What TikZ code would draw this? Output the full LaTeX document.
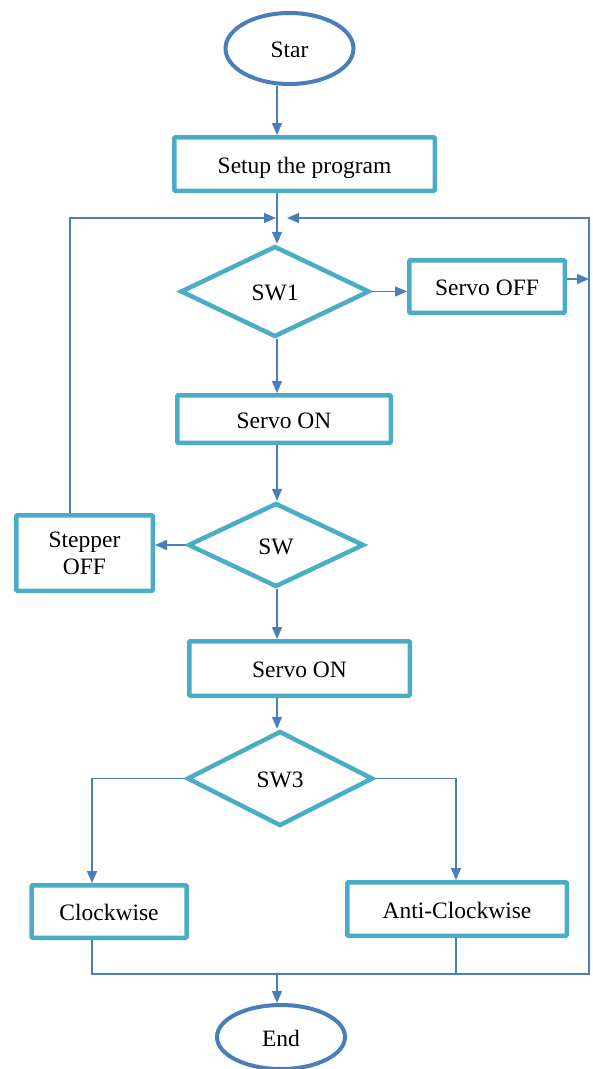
\documentclass[tikz,border=0pt]{standalone}
\usepackage{fontspec}
\setmainfont{Liberation Serif}
\usetikzlibrary{shapes.geometric,arrows.meta}
\definecolor{tealc}{HTML}{4BACC6}
\definecolor{bluec}{HTML}{4A7EBB}
\begin{document}
\begin{tikzpicture}[x=1pt,y=-1pt,
  every node/.style={font=\fontsize{23.5}{27}\selectfont, inner sep=2pt, text height=21pt, text depth=3pt},
  box/.style={rectangle, draw=tealc, line width=4.5pt, rounded corners=1pt},
  dec/.style={diamond, draw=tealc, line width=4.5pt},
  term/.style={ellipse, draw=bluec, line width=4pt},
  arr/.style={draw=bluec, line width=1.6pt, -{Triangle[length=12pt,width=10pt]}},
  conn/.style={draw=bluec, line width=1.6pt}]
\useasboundingbox (0,0) rectangle (593,1069);
\node[term, minimum width=128pt, minimum height=71pt] (star) at (289.5,48.5) {Star};
\node[box, minimum width=260.5pt, minimum height=53.5pt] (setup) at (304.5,164) {Setup the program};
\node[dec, minimum width=189pt, minimum height=91pt] (sw1) at (275,291.5) {SW1};
\node[box, minimum width=155.5pt, minimum height=52.5pt] (servooff) at (487,286.5) {Servo OFF};
\node[box, minimum width=213.5pt, minimum height=47.5pt] (son1) at (284,419) {Servo ON};
\node[dec, minimum width=176pt, minimum height=84pt] (sw) at (276,545) {SW};
\node[box, minimum width=136.5pt, minimum height=75.5pt, align=center, text height=, text depth=] (stepper) at (84.5,553) {\raisebox{-3pt}{\parbox{100pt}{\centering Stepper\\OFF}}};
\node[box, minimum width=220.5pt, minimum height=54.5pt] (son2) at (299.5,668.5) {Servo ON};
\node[dec, minimum width=186pt, minimum height=95pt] (sw3) at (280,778.5) {SW3};
\node[box, minimum width=155pt, minimum height=52.5pt] (cw) at (109,911.5) {Clockwise};
\node[box, minimum width=219.5pt, minimum height=53.5pt] (acw) at (457,909) {Anti-Clockwise};
\node[term, minimum width=128pt, minimum height=64pt] (end) at (281,1037) {End};
\coordinate (mx) at (277,0);
\coordinate (r1) at (589,279);
\coordinate (topL) at (276,218);
\coordinate (lcorner) at (70,218);
\coordinate (topR) at (287,218);
\coordinate (tr) at (589,218);
\coordinate (bl) at (92,974);
\coordinate (br) at (589,974);
\coordinate (acwx) at (456,0);
\draw[arr] (star.south -| mx) -- (setup.north -| mx);
\draw[arr] (setup.south -| mx) -- (sw1.north -| mx);
\draw[arr] (sw1.east) -- (servooff.west |- sw1.east);
\draw[arr] (servooff.east |- r1) -- (r1);
\draw[arr] (sw1.south -| mx) -- (son1.north -| mx);
\draw[arr] (son1.south -| mx) -- (sw.north -| mx);
\draw[arr] (sw.west) -- (stepper.east |- sw.west);
\draw[arr] (stepper.north -| lcorner) -- (lcorner) -- (topL);
\draw[arr] (sw.south -| mx) -- (son2.north -| mx);
\draw[arr] (son2.south -| mx) -- (sw3.north -| mx);
\draw[arr] (sw3.west) -| (cw.north -| bl);
\draw[arr] (sw3.east) -| (acw.north -| acwx);
\draw[arr] (cw.south -| bl) -- (bl) -- (br) -- (tr) -- (topR);
\draw[conn] (acw.south -| acwx) -- (acwx |- bl);
\draw[arr] (mx |- bl) -- (end.north -| mx);
\end{tikzpicture}
\end{document}
